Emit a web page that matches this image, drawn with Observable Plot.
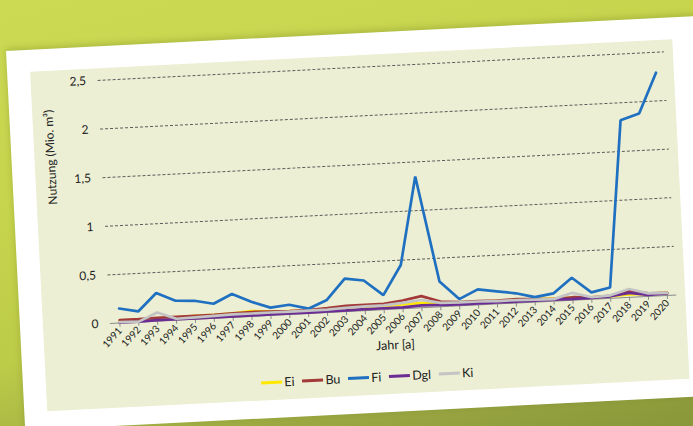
<!DOCTYPE html>
<html>
<head>
<meta charset="utf-8">
<script src="https://cdn.jsdelivr.net/npm/d3@7"></script>
<script src="https://cdn.jsdelivr.net/npm/@observablehq/plot@0.6"></script>
<style>
  html, body { margin: 0; padding: 0; }
  body {
    width: 693px; height: 426px; overflow: hidden; position: relative;
    background: linear-gradient(165deg, #cbd953 0%, #c6d44d 35%, #bccb48 60%, #9ba842 82%, #8a973a 100%);
    font-family: Lato, "Open Sans", sans-serif;
  }
  .card {
    position: absolute; left: 5.9px; top: 50.9px;
    width: 720px; height: 380px; background: #ffffff;
    transform-origin: 0 0; transform: rotate(-2.9deg);
    box-shadow: 0 -2px 6px rgba(80, 90, 20, 0.25);
  }
  .panel {
    position: absolute; left: 23px; top: 22px;
    width: 642.6px; height: 340.4px; background: #ecefd3;
  }
  .panel svg { position: absolute; left: 0; top: 0; }
  .legend {
    position: absolute; left: 0; width: 100%; top: 315px;
    display: flex; justify-content: center; align-items: center;
    font-size: 12.5px; color: #222;
  }
  .legend .item { display: flex; align-items: center; margin: 0 4px; }
  .legend .sw { width: 21px; height: 3px; margin-right: 2px; }
</style>
</head>
<body>
<div class="card"><div class="panel" id="panel"></div></div>
<script>
// Holzeinschlag je Baumart, 1991–2020 (Mio. m³)
const years = ["1991","1992","1993","1994","1995","1996","1997","1998","1999","2000",
               "2001","2002","2003","2004","2005","2006","2007","2008","2009","2010",
               "2011","2012","2013","2014","2015","2016","2017","2018","2019","2020"];

const seriesNames = ["Ei", "Bu", "Fi", "Dgl", "Ki"];
const seriesColors = ["#ffe800", "#a23a3a", "#1f70c1", "#6b2d93", "#c4c4c4"];

const ei  = [0.025,0.025,0.03,0.03,0.035,0.035,0.04,0.055,0.04,0.035,0.03,0.035,0.04,0.04,0.04,0.045,0.048,0.035,0.03,0.03,0.03,0.03,0.03,0.025,0.025,0.02,0.02,0.03,0.025,0.025];
const bu  = [0.03,0.03,0.035,0.035,0.035,0.035,0.04,0.045,0.04,0.035,0.035,0.045,0.06,0.06,0.06,0.085,0.12,0.055,0.04,0.04,0.035,0.04,0.03,0.02,0.03,0.02,0.025,0.065,0.03,0.025];
const fi  = [0.15,0.11,0.29,0.2,0.19,0.15,0.24,0.15,0.08,0.1,0.05,0.13,0.34,0.31,0.15,0.45,1.35,0.26,0.07,0.16,0.13,0.1,0.05,0.08,0.23,0.07,0.11,1.82,1.88,2.29];
const dgl = [0.005,0.005,0.01,0.01,0.01,0.01,0.01,0.01,0.01,0.01,0.01,0.012,0.012,0.015,0.015,0.015,0.025,0.02,0.015,0.015,0.015,0.015,0.015,0.015,0.012,0.012,0.02,0.045,0.015,0.02];
const ki  = [0.01,0.005,0.09,0.015,0.02,0.025,0.03,0.03,0.03,0.03,0.03,0.03,0.04,0.045,0.045,0.06,0.08,0.04,0.035,0.035,0.03,0.03,0.025,0.02,0.075,0.02,0.03,0.085,0.03,0.025];

const yTicks = [0, 0.5, 1, 1.5, 2, 2.5];

const seriesValues = [ei, bu, fi, dgl, ki];
const rows = seriesNames.flatMap((name, s) =>
  years.map((year, i) => ({series: name, year, value: seriesValues[s][i]})));

const chart = Plot.plot({
  width: 642,
  height: 308,
  marginLeft: 67,
  marginRight: 8,
  marginTop: 11.6,
  marginBottom: 53,
  style: {background: "transparent", fontFamily: "Lato, 'Open Sans', sans-serif", color: "#222"},
  x: {type: "point", domain: years, padding: 0.5, round: false},
  y: {domain: [0, 2.5]},
  color: {domain: seriesNames, range: seriesColors},
  marks: [
    Plot.ruleY(yTicks.filter(d => d > 0), {stroke: "#5c5c5c", strokeWidth: 1, strokeDasharray: "3,2"}),
    Plot.ruleY([0], {stroke: "#8a8a8a", strokeWidth: 1}),
    Plot.axisX({tickRotate: -45, tickSize: 4, tickPadding: 2, stroke: "#8a8a8a", fill: "#222", fontSize: 10, label: null}),
    Plot.axisY({ticks: yTicks, tickFormat: d => String(d).replace(".", ","), tickSize: 0, tickPadding: 12, fill: "#222", fontSize: 12, label: null}),
    Plot.line(rows, {x: "year", y: "value", z: "series", stroke: "series", strokeWidth: 2.7, strokeLinejoin: "miter"}),
    Plot.text(["Jahr [a]"], {text: d => d, frameAnchor: "bottom", dy: 40, fontSize: 12.5, fill: "#222"}),
    Plot.text(["Nutzung (Mio. m³)"], {text: d => d, frameAnchor: "left", dx: -51, rotate: -90, fontSize: 12, fill: "#222"})
  ]
});

const panel = document.getElementById("panel");
panel.appendChild(chart);

// Legend with line swatches
const legend = document.createElement("div");
legend.className = "legend";
seriesNames.forEach((name, i) => {
  const item = document.createElement("div");
  item.className = "item";
  const sw = document.createElement("span");
  sw.className = "sw";
  sw.style.background = seriesColors[i];
  const label = document.createElement("span");
  label.textContent = name;
  item.appendChild(sw);
  item.appendChild(label);
  legend.appendChild(item);
});
panel.appendChild(legend);
</script>
</body>
</html>
